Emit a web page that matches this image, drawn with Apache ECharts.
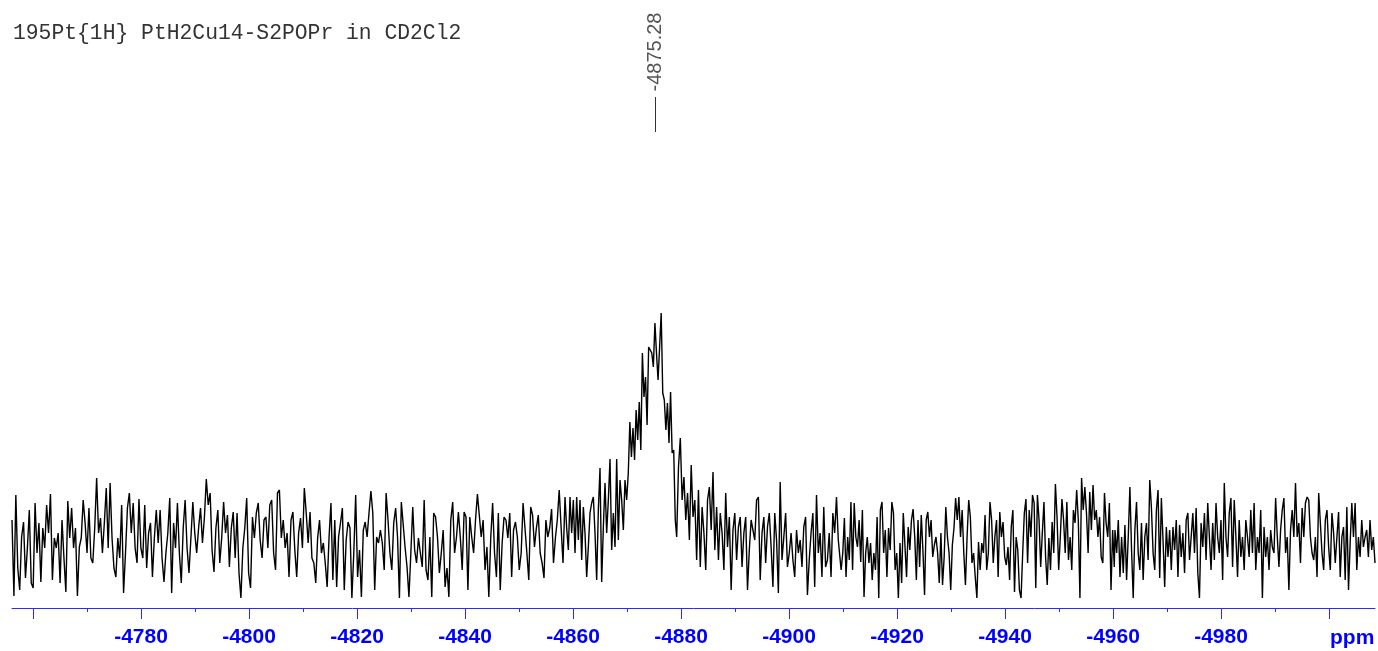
<!DOCTYPE html>
<html><head><meta charset="utf-8">
<script src="https://cdn.jsdelivr.net/npm/echarts/dist/echarts.min.js"></script>
<style>html,body{margin:0;padding:0;background:#fff;overflow:hidden}#c{width:1378px;height:651px}</style>
</head><body><div id="c"></div>
<script>
// ---------- data ----------
const titleText = '195Pt{1H} PtH2Cu14-S2POPr in CD2Cl2';
const peakPpm = -4875.28;
const peakLabel = '-4875.28';
const axisUnit = 'ppm';
const tickLabels = [-4780, -4800, -4820, -4840, -4860, -4880, -4900, -4920, -4940, -4960, -4980];
const majorTicks = [-4760, -4780, -4800, -4820, -4840, -4860, -4880, -4900, -4920, -4940, -4960, -4980, -5000];
const minorTicks = [-4770, -4790, -4810, -4830, -4850, -4870, -4890, -4910, -4930, -4950, -4970, -4990];
const ppmLeft = -4756.11;
const ppmRight = -5008.52;

// spectrum pieces: [ppm at first point, ppm at last point] and intensities
const seg1Range = [-4756.11, -4807.41];
const seg1 = [88,12,113,40,18,71,86,30,60,98,25,20,105,55,85,26,80,60,103,75,114,28,70,60,75,25,88,50,16,107,70,100,60,80,12,61,70,108,85,55,100,50,45,80,130,75,90,55,85,120,60,125,70,40,31,70,50,103,15,55,100,115,75,105,60,45,109,60,50,103,40,75,85,31,70,98,65,98,50,26,55,75,110,15,85,60,105,55,25,80,108,60,35,70,106,75,55,80,100,65,90,129,103,115,58,36,80,98,45,70,106,75,93,41,80,96,50,95,35,10,60,80,110,35,20,91,70,95,105,68,50,88,91,60,103,108,55,38,115,118,70,88,60,75,31];

const seg2Range = [-4807.78, -4858.15];
const seg2 = [88,96,58,31,75,90,60,120,95,65,96,50,45,25,70,88,55,65,45,21,71,105,28,88,21,71,85,100,18,68,86,80,10,55,113,31,58,11,78,86,71,95,117,95,18,71,65,78,65,38,115,88,55,38,85,100,71,10,106,106,60,41,11,55,101,58,45,70,55,41,108,38,28,71,11,95,91,71,35,55,78,21,40,11,88,106,55,71,96,71,38,96,91,18,91,71,55,88,114,113,71,88,38,61,11,70,105,55,31,95,18,65,91,88,70,95,31,78,86,71,38,55,105,105,55,28,101,93,61,80,93,55,45,30,88,71,80,99,45,70,88,118,81,45];

const seg3aRange = [-4858.52, -4869.94];
const seg3a = [111,80,58,111,75,108,55,111,68,108,48,101,75,31,61,95,105,111,75,28,98,140,26,81,125,75,108,149,58,95,61,149,68,128,108,78,128,108];

const seg3bRange = [-4870.24, -4878.94];
const seg3b = [135,186,151,180,148,198,168,206,158,255,211,231,183,261,258,255,241,285,255,228,261,295,215,208,178,205,165,216,155,158,88];

const seg3cRange = [-4879.20, -4909.13];
const seg3c = [71,141,170,108,131,88,115,68,143,91,108,48,118,41,101,75,38,108,121,78,136,58,101,48,95,75,38,115,61,91,18,78,95,48,81,91,41,75,91,18,58,88,78,68,108,111,28,75,91,45,81,95,61,21,95,68,15,126,48,71,95,41,55,75,48,31,78,55,68,41,81,91,13,48,75,95,21,113,55,75,31,101,41,48,75,31,95,75,111,68];

const seg4Range = [-4909.35, -4960.24];
const seg4 = [68,38,55,90,31,71,48,106,38,105,71,61,88,46,98,11,55,71,45,65,28,55,38,91,10,98,106,55,78,31,80,58,106,95,38,55,10,65,25,95,96,31,81,58,88,99,71,28,88,41,93,58,13,88,96,71,88,51,63,71,55,25,75,23,51,101,71,55,18,63,80,110,88,111,71,98,55,23,71,108,91,45,55,31,10,66,38,65,55,93,38,55,106,88,45,71,88,31,96,71,86,51,43,61,28,81,98,16,71,58,18,10,55,95,109,45,98,71,113,105,20,113,88,41,75,106,51,23,70,38,86,55,124,91,38,71,109,88,55,106,48,71,38,98,85,118,88,10,130,98,121,95,55,116,78,123,88,98,71,91,51,45,115,85,71,105,18,78,41];

const seg5Range = [-4960.37, -5008.52];
const seg5 = [78,55,88,31,71,35,83,28,71,121,58,10,78,106,55,38,85,28,71,85,48,128,100,55,38,98,118,30,110,68,21,81,51,78,38,81,58,88,31,83,51,75,35,88,95,48,71,95,55,100,35,10,85,61,95,48,105,71,38,85,48,105,71,55,88,28,125,71,51,95,110,41,108,71,31,88,51,71,38,88,71,51,98,55,105,38,71,55,98,10,81,51,71,38,78,61,55,110,71,41,78,98,110,55,71,18,78,98,71,125,71,85,45,100,71,105,111,108,71,55,48,71,31,115,85,55,38,88,98,61,38,95,75,45,71,96,31,71,81,28,101,18,65,105,71,105,38,71,51,88,61,71,78,51,88,58,71,45];

// ---------- build ----------
const pieces = [[seg1Range, seg1],[seg2Range, seg2],[seg3aRange, seg3a],[seg3bRange, seg3b],[seg3cRange, seg3c],[seg4Range, seg4],[seg5Range, seg5]];
const spectrum = [];
pieces.forEach(([r, vals]) => {
  const n = vals.length;
  vals.forEach((v, i) => spectrum.push([r[0] + (r[1] - r[0]) * i / (n - 1), v]));
});

const blue = '#0000ff';
const axisBlue = '#2a2aff';
const chart = echarts.init(document.getElementById('c'), null, {renderer: 'canvas'});
chart.setOption({
  animation: false,
  backgroundColor: '#ffffff',
  grid: {left: 12, right: 3, top: 8, bottom: 43, containLabel: false, outerBoundsMode: 'none'},
  xAxis: [{
    type: 'value', inverse: true, min: ppmRight, max: ppmLeft, position: 'bottom',
    axisLine: {show: true, onZero: false, lineStyle: {color: axisBlue, width: 1}},
    axisTick: {show: true, length: 11, customValues: majorTicks, lineStyle: {color: axisBlue, width: 1}},
    minorTick: {show: false},
    splitLine: {show: false}, minorSplitLine: {show: false},
    axisLabel: {
      show: true, margin: 19, color: blue, fontFamily: '"Liberation Sans", Arial, sans-serif',
      fontWeight: 'bold', fontSize: 21, customValues: tickLabels,
      formatter: v => String(Math.round(v))
    }
  }, {
    type: 'value', inverse: true, min: ppmRight, max: ppmLeft, position: 'bottom',
    axisLine: {show: false, onZero: false},
    axisTick: {show: true, length: 4, customValues: minorTicks, lineStyle: {color: axisBlue, width: 1}},
    minorTick: {show: false},
    splitLine: {show: false},
    axisLabel: {show: false}
  }],
  yAxis: {type: 'value', min: 0, max: 600, show: false},
  series: [{
    type: 'line', data: spectrum, showSymbol: false, symbol: 'none', sampling: null,
    xAxisIndex: 0, lineStyle: {color: '#000000', width: 1.4}, silent: true
  }]
});

const px = chart.convertToPixel({xAxisIndex: 0}, peakPpm);
const tickX = chart.convertToPixel({xAxisIndex: 0}, -5000);
chart.setOption({
  graphic: [
    {type: 'text', x: 13, y: 33, style: {text: titleText, font: '21.35px "Liberation Mono", monospace', fill: '#333333', textVerticalAlign: 'middle', textAlign: 'left'}},
    {type: 'text', x: px, y: 52, rotation: Math.PI / 2, style: {text: peakLabel, font: '20px "Liberation Sans", Arial, sans-serif', fill: '#555555', textAlign: 'center', textVerticalAlign: 'middle'}},
    {type: 'line', shape: {x1: px, y1: 97, x2: px, y2: 132}, style: {stroke: '#333333', lineWidth: 1}},
    {type: 'text', x: tickX + 1, y: 638, style: {text: axisUnit, font: 'bold 21px "Liberation Sans", Arial, sans-serif', fill: blue, textAlign: 'left', textVerticalAlign: 'middle'}}
  ]
});
</script></body></html>
